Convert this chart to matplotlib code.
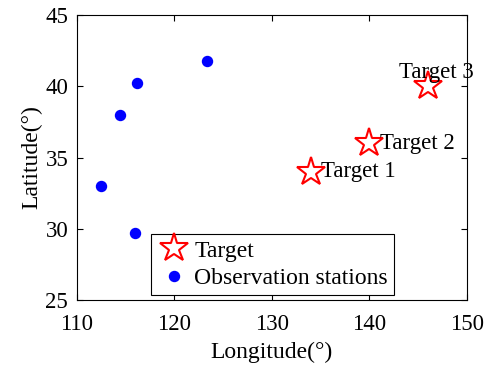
import matplotlib
matplotlib.use("Agg")
import matplotlib.pyplot as plt

station_lon = [112.5, 114.5, 116.2, 116.0, 123.4]
station_lat = [33.0, 38.0, 40.2, 29.7, 41.8]
target_lon = [134, 140, 146]
target_lat = [34, 36, 40]
target_names = ["Target 1", "Target 2", "Target 3"]
label_lon = [135.1, 141.1, 143.0]
label_lat = [34, 36, 41]

plt.rcParams['font.family'] = ['Liberation Serif', 'DejaVu Serif']
plt.rcParams['mathtext.fontset'] = 'stix'

fig = plt.figure(figsize=(4.94, 3.68), dpi=100)
ax = fig.add_axes([0.155, 0.185, 0.790, 0.774])

ax.plot(target_lon, target_lat, linestyle='none', marker='*', ms=21,
        mfc='white', mec='red', mew=1.5, label='Target', zorder=3)
ax.plot(station_lon, station_lat, linestyle='none', marker='o', ms=7.2,
        mfc='blue', mec='blue', label='Observation stations', zorder=3)

for x, y, name in zip(label_lon, label_lat, target_names):
    ax.text(x, y, name, fontsize=16.5, va='center', ha='left', zorder=4)

ax.set_xlim(110, 150)
ax.set_ylim(25, 45)
ax.set_xticks([110, 120, 130, 140, 150])
ax.set_yticks([25, 30, 35, 40, 45])
ax.tick_params(direction='in', top=True, right=True, length=4, width=0.8,
               labelsize=16.5)
ax.tick_params(axis='x', pad=10)
ax.tick_params(axis='y', pad=6)
for s in ax.spines.values():
    s.set_linewidth(0.8)

ax.set_xlabel('Longitude(°)', fontsize=17, labelpad=5)
ax.set_ylabel('Latitude(°)', fontsize=17, labelpad=2)

leg = ax.legend(loc='lower left', bbox_to_anchor=(0.19, 0.0175), borderaxespad=0,
                fontsize=17, fancybox=False, framealpha=1, edgecolor='black',
                handletextpad=0.1, borderpad=0.25, labelspacing=0.25,
                handlelength=1.5)
leg.get_frame().set_linewidth(0.8)

fig.savefig('out.png', dpi=100)
